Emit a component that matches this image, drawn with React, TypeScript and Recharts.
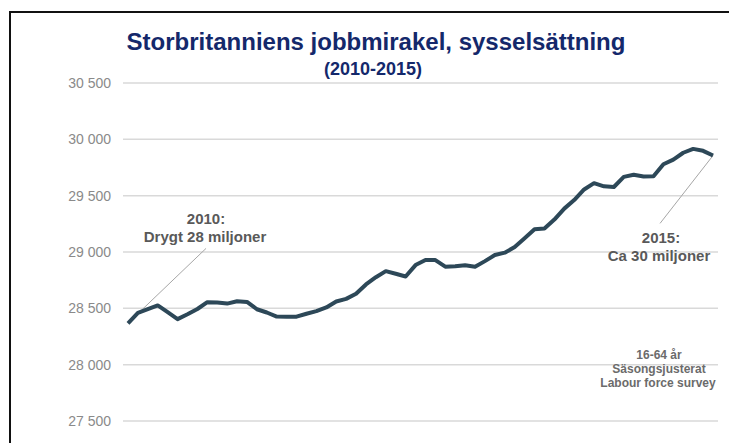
import React from 'react';
import {
    LineChart,
    Line,
    XAxis,
    YAxis,
    CartesianGrid,
    ReferenceLine,
} from 'recharts';

// Sysselsatta 16-64 år, tusental, säsongsjusterat
const months = [
    '2010-01', '2010-02', '2010-03', '2010-04', '2010-05', '2010-06', '2010-07', '2010-08', '2010-09', '2010-10',
    '2010-11', '2010-12', '2011-01', '2011-02', '2011-03', '2011-04', '2011-05', '2011-06', '2011-07', '2011-08',
    '2011-09', '2011-10', '2011-11', '2011-12', '2012-01', '2012-02', '2012-03', '2012-04', '2012-05', '2012-06',
    '2012-07', '2012-08', '2012-09', '2012-10', '2012-11', '2012-12', '2013-01', '2013-02', '2013-03', '2013-04',
    '2013-05', '2013-06', '2013-07', '2013-08', '2013-09', '2013-10', '2013-11', '2013-12', '2014-01', '2014-02',
    '2014-03', '2014-04', '2014-05', '2014-06', '2014-07', '2014-08', '2014-09', '2014-10', '2014-11', '2014-12',
];

const employment = [
    28367, 28460, 28492, 28526, 28466, 28404, 28447, 28494, 28555, 28551,
    28542, 28563, 28557, 28492, 28463, 28427, 28426, 28426, 28452, 28475,
    28508, 28561, 28584, 28629, 28712, 28776, 28830, 28807, 28783, 28884,
    28929, 28928, 28870, 28873, 28882, 28870, 28919, 28973, 28994, 29044,
    29121, 29201, 29209, 29288, 29385, 29461, 29555, 29611, 29583, 29577,
    29667, 29686, 29670, 29672, 29779, 29820, 29881, 29915, 29898, 29856,
];

const yTicks = [27500, 28000, 28500, 29000, 29500, 30000, 30500];

const chartData = months.map((m, i) => ({ idx: i, month: m, value: employment[i] }));

const formatTick = (v: number) => String(v).replace(/\B(?=(\d{3})+(?!\d))/g, ' ');

const annText: React.CSSProperties = {
    position: 'absolute',
    transform: 'translate(-50%, -50%)',
    whiteSpace: 'nowrap',
    fontFamily: '"Liberation Sans", Arial, sans-serif',
    fontWeight: 'bold',
    color: '#595959',
    fontSize: 15,
    lineHeight: '18px',
};

const noteText: React.CSSProperties = {
    ...annText,
    fontSize: 12,
    lineHeight: '14px',
    color: '#6b6b6b',
};

export default function App() {
    return (
        <div style={{ position: 'absolute', left: 0, top: 0, width: 729, height: 443, overflow: 'hidden', background: '#fff' }}>
            {/* ram */}
            <div style={{ position: 'absolute', left: 9, top: 11, width: 760, height: 460, borderLeft: '2px solid #111', borderTop: '2px solid #111' }} />

            <div style={{ position: 'absolute', left: 0, top: 0 }}>
                <LineChart width={729} height={443} data={chartData} margin={{ top: 83, right: 11, bottom: 22, left: 63 }}>
                    <CartesianGrid vertical={false} stroke="#d9d9d9" strokeWidth={1.5} />
                    <XAxis dataKey="idx" type="number" domain={[0, 59]} hide padding={{ left: 5, right: 5 }} />
                    <YAxis
                        domain={[27500, 30500]}
                        ticks={yTicks}
                        width={60}
                        axisLine={false}
                        tickLine={false}
                        tickMargin={6}
                        tickFormatter={formatTick}
                        tick={{ fill: '#8a8a8a', fontSize: 14, fontFamily: '"Liberation Sans", Arial, sans-serif' }}
                    />
                    <ReferenceLine
                        segment={[{ x: 7.87, y: 29032 }, { x: 0.3, y: 28394 }]}
                        stroke="#a6a6a6"
                        strokeWidth={1}
                    />
                    <ReferenceLine
                        segment={[{ x: 53.66, y: 29254 }, { x: 59, y: 29856 }]}
                        stroke="#a6a6a6"
                        strokeWidth={1}
                    />
                    <Line
                        type="linear"
                        dataKey="value"
                        stroke="#2d4858"
                        strokeWidth={4}
                        strokeLinejoin="round"
                        dot={false}
                        isAnimationActive={false}
                    />
                </LineChart>
            </div>

            {/* rubriker */}
            <div style={{ ...annText, left: 376, top: 42, fontSize: 24, lineHeight: '28px', color: '#14286b' }}>
                Storbritanniens jobbmirakel, sysselsättning
            </div>
            <div style={{ ...annText, left: 373, top: 69, fontSize: 18, lineHeight: '20px', color: '#14286b' }}>
                (2010-2015)
            </div>

            {/* annoteringar */}
            <div style={{ ...annText, left: 206, top: 219 }}>2010:</div>
            <div style={{ ...annText, left: 205, top: 237 }}>Drygt 28 miljoner</div>
            <div style={{ ...annText, left: 661, top: 238 }}>2015:</div>
            <div style={{ ...annText, left: 659, top: 256 }}>Ca 30 miljoner</div>

            <div style={{ ...noteText, left: 659, top: 355 }}>16-64 år</div>
            <div style={{ ...noteText, left: 659, top: 369 }}>Säsongsjusterat</div>
            <div style={{ ...noteText, left: 658, top: 383 }}>Labour force survey</div>
        </div>
    );
}
